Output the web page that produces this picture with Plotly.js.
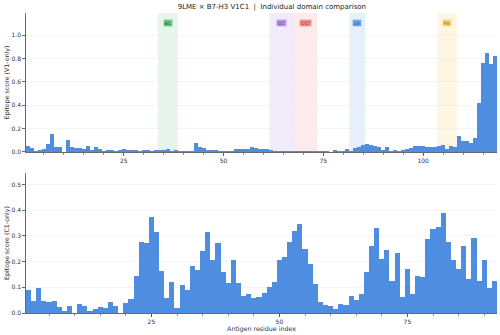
<!DOCTYPE html>
<html>
<head>
<meta charset="utf-8">
<script src="https://cdn.plot.ly/plotly-3.0.1.min.js"></script>
<style>html,body{margin:0;padding:0;background:#fff;}#chart{width:500px;height:335px;}</style>
</head>
<body>
<div id="chart"></div>
<script>
// V1-only epitope scores, residues 1..118
var v1Scores = [
  0.05, 0.035, 0.012, 0.018, 0.025, 0.065, 0.155, 0.04, 0.045, 0.003,
  0.1, 0.04, 0.033, 0.036, 0.022, 0.048, 0.02, 0.045, 0.022, 0.005,
  0.015, 0.013, 0.012, 0.013, 0.022, 0.018, 0.02, 0.013, 0.01, 0.02,
  0.014, 0.012, 0.02, 0.02, 0.018, 0.022, 0.01, 0.02, 0.005, 0.008,
  0.006, 0.01, 0.075, 0.04, 0.035, 0.02, 0.02, 0.018, 0.008, 0.004,
  0.008, 0.01, 0.025, 0.028, 0.025, 0.025, 0.045, 0.03, 0.028, 0.025,
  0.022, 0.02, 0.012, 0.01, 0.006, 0.01, 0.005, 0.004, 0.006, 0.004,
  0.005, 0.006, 0.004, 0.005, 0.004, 0.005, 0.003, 0.014, 0.008, 0.01,
  0.023, 0.012, 0.037, 0.045, 0.057, 0.068, 0.06, 0.05, 0.04, 0.015,
  0.042, 0.01, 0.02, 0.005, 0.02, 0.025, 0.035, 0.048, 0.054, 0.054,
  0.043, 0.043, 0.043, 0.05, 0.06, 0.025, 0.054, 0.043, 0.14, 0.09,
  0.09, 0.077, 0.117, 0.42, 0.76, 0.85, 0.755, 0.825
];
// C1-only epitope scores, residues 1..92
var c1Scores = [
  0.088, 0.046, 0.096, 0.046, 0.042, 0.048, 0.022, 0.007, 0.029, 0.0,
  0.036, 0.027, 0.009, 0.017, 0.025, 0.02, 0.043, 0.027, 0.0, 0.038,
  0.056, 0.143, 0.275, 0.273, 0.372, 0.315, 0.164, 0.057, 0.121, 0.021,
  0.109, 0.088, 0.184, 0.168, 0.242, 0.316, 0.206, 0.272, 0.16, 0.118,
  0.206, 0.116, 0.065, 0.075, 0.059, 0.062, 0.077, 0.1, 0.122, 0.208,
  0.217, 0.276, 0.32, 0.348, 0.25, 0.189, 0.112, 0.042, 0.033, 0.027,
  0.017, 0.036, 0.031, 0.066, 0.051, 0.073, 0.158, 0.262, 0.33, 0.21,
  0.247, 0.125, 0.234, 0.062, 0.17, 0.074, 0.143, 0.141, 0.286, 0.327,
  0.335, 0.388, 0.276, 0.207, 0.172, 0.26, 0.134, 0.292, 0.126, 0.208,
  0.099, 0.125
];
var v1Residues = v1Scores.map(function(_, i){ return i + 1; });
var c1Residues = c1Scores.map(function(_, i){ return i + 1; });

// Loop regions highlighted in the V1 panel
var regionNames = ["BC", "CC'", "C'C''", "DE", "FG"];
var regionStart = [33.5, 61.5, 67.5, 81.5, 103.5];
var regionEnd   = [38.5, 67.5, 73.5, 85.5, 108.5];

var v1TickVals = [25, 50, 75, 100];
var c1TickVals = [25, 50, 75];
var v1YTicks = [0, 0.2, 0.4, 0.6, 0.8, 1.0];
var c1YTicks = [0, 0.1, 0.2, 0.3, 0.4, 0.5];

var titleText = "9LME × B7-H3 V1C1  |  Individual domain comparison";

// styles
var bandFill = ["rgba(60,170,90,0.13)", "rgba(150,110,220,0.14)", "rgba(240,100,100,0.13)", "rgba(80,150,230,0.14)", "rgba(245,200,70,0.16)"];
var labelFill = ["#6fc28d", "#b895e6", "#ef8d8d", "#74a9e8", "#f6d37c"];
var labelText = ["#1e5a32", "#4a2a7a", "#7a2020", "#1d4c84", "#7a5a10"];
var barColor = "#4f8de0";
var FONT = "DejaVu Sans, sans-serif";

var traces = [
  {type: "bar", x: v1Residues, y: v1Scores, xaxis: "x", yaxis: "y",
   marker: {color: barColor, line: {width: 0}}, hoverinfo: "skip"},
  {type: "bar", x: c1Residues, y: c1Scores, xaxis: "x2", yaxis: "y2",
   marker: {color: barColor, line: {width: 0}}, hoverinfo: "skip"}
];

var shapes = [], annotations = [];
regionNames.forEach(function(name, i){
  shapes.push({type: "rect", xref: "x", yref: "y domain", x0: regionStart[i], x1: regionEnd[i],
    y0: 0, y1: 1, fillcolor: bandFill[i], line: {width: 0}, layer: "below"});
  annotations.push({xref: "x", yref: "y domain", x: (regionStart[i] + regionEnd[i]) / 2, y: 0.955,
    text: name, showarrow: false, font: {family: FONT, size: 4.5, color: labelText[i]},
    bgcolor: labelFill[i], bordercolor: "rgba(255,255,255,0.8)", borderwidth: 0.5, borderpad: 1.2});
});

var axisCommon = {
  showline: true, linecolor: "#444", linewidth: 0.8,
  ticks: "outside", ticklen: 3, tickwidth: 0.8, tickcolor: "#444",
  tickfont: {family: FONT, size: 6, color: "#333"},
  zeroline: false, automargin: false
};

var layout = {
  width: 500, height: 335,
  margin: {l: 26, r: 3, t: 13, b: 22},
  paper_bgcolor: "#fff", plot_bgcolor: "#fff",
  showlegend: false, bargap: 0,
  title: {text: titleText, x: 0.522, xref: "paper", xanchor: "center", y: 0.979, yref: "container", yanchor: "middle",
    font: {family: FONT, size: 7, color: "#222"}},
  xaxis: Object.assign({}, axisCommon, {domain: [0, 1], anchor: "y", range: [0.5, 118.5],
    tickmode: "array", tickvals: v1TickVals, showgrid: false,
    minor: {tick0: 0, dtick: 5, ticks: "outside", ticklen: 2, tickwidth: 0.6, tickcolor: "#444", showgrid: false}}),
  yaxis: Object.assign({}, axisCommon, {domain: [0.537, 1], anchor: "x", range: [0, 1.19],
    tickmode: "array", tickvals: v1YTicks, tickformat: ".1f",
    showgrid: true, gridcolor: "#ececec", gridwidth: 0.6,
    title: {text: "Epitope score (V1-only)", font: {family: FONT, size: 6.3, color: "#333"}, standoff: 1}}),
  xaxis2: Object.assign({}, axisCommon, {domain: [0, 1], anchor: "y2", range: [0.5, 92.5],
    tickmode: "array", tickvals: c1TickVals, showgrid: false,
    minor: {tick0: 0, dtick: 5, ticks: "outside", ticklen: 2, tickwidth: 0.6, tickcolor: "#444", showgrid: false},
    title: {text: "Antigen residue index", font: {family: FONT, size: 6.3, color: "#333"}, standoff: 2}}),
  yaxis2: Object.assign({}, axisCommon, {domain: [0, 0.467], anchor: "x2", range: [0, 0.545],
    tickmode: "array", tickvals: c1YTicks, tickformat: ".1f",
    showgrid: true, gridcolor: "#ececec", gridwidth: 0.6,
    title: {text: "Epitope score (C1-only)", font: {family: FONT, size: 6.3, color: "#333"}, standoff: 1}}),
  shapes: shapes,
  annotations: annotations
};

Plotly.newPlot("chart", traces, layout, {displayModeBar: false, staticPlot: true});
</script>
</body>
</html>
